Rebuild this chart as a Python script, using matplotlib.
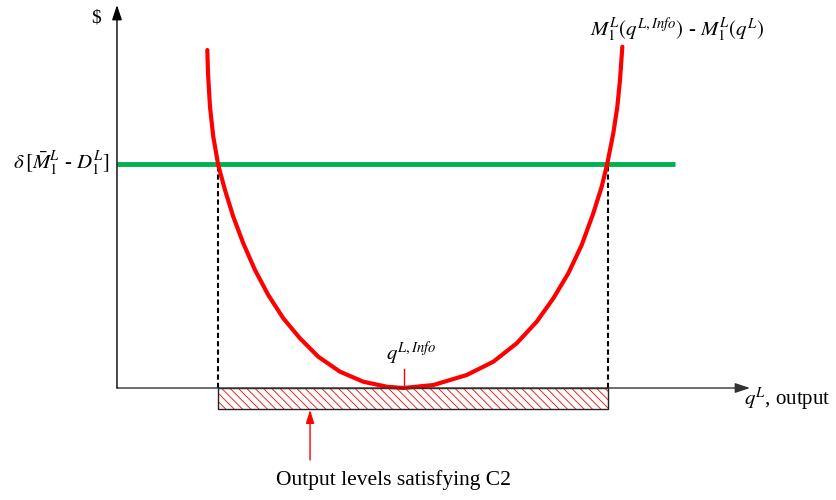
import matplotlib.pyplot as plt
from matplotlib.patches import Rectangle

plt.rcParams['font.family'] = ['Liberation Serif', 'DejaVu Serif']
plt.rcParams['mathtext.fontset'] = 'stix'
plt.rcParams['hatch.linewidth'] = 0.6

# red U curve M1(q_info) - M1(q)
q_curve = [1.427, 1.438, 1.469, 1.521, 1.600, 1.706, 1.837, 1.995, 2.180, 2.390,
           2.627, 2.891, 3.180, 3.523, 3.891, 4.261, 4.523, 4.997, 5.524, 5.945,
           6.314, 6.630, 6.893, 7.130, 7.341, 7.524, 7.657, 7.746, 7.840, 7.904,
           7.946, 7.983]
v_curve = [8.825, 8.217, 7.345, 6.561, 5.815, 5.170, 4.473, 3.778, 3.081, 2.428,
           1.820, 1.298, 0.817, 0.426, 0.164, 0.034, 0.000, 0.078, 0.339, 0.687,
           1.167, 1.731, 2.342, 2.995, 3.734, 4.561, 5.256, 5.867, 6.650, 7.345,
           8.042, 8.911]

delta_level = 5.85      # green line
q_left, q_right = 1.60, 7.75   # crossings
green_end = 8.81
q_info = 4.53
x_max, y_max = 10.0, 10.0

fig = plt.figure(figsize=(8.37, 5.0), dpi=100)
ax = fig.add_axes([0, 0, 1, 1])
ax.set_xlim(-1.848, 11.374)
ax.set_ylim(-2.924, 10.131)
ax.axis('off')

# axes with arrows
ax.annotate('', xy=(x_max, 0), xytext=(0, 0),
            arrowprops=dict(arrowstyle='-|>,head_length=0.9,head_width=0.3', color='#333333', lw=1,
                            shrinkA=0, shrinkB=0))
ax.annotate('', xy=(0, y_max), xytext=(0, 0),
            arrowprops=dict(arrowstyle='-|>,head_length=0.9,head_width=0.3', color='black', lw=1,
                            shrinkA=0, shrinkB=0))

# hatched region
ax.add_patch(Rectangle((q_left, -0.55), q_right - q_left, 0.55, facecolor='none',
                       edgecolor='red', hatch='\\' * 4, lw=0))
ax.add_patch(Rectangle((q_left, -0.55), q_right - q_left, 0.55, facecolor='none',
                       edgecolor='#222222', lw=1))

# dashed drop lines
for qx in (q_left, q_right):
    ax.plot([qx, qx], [0, delta_level], color='black', lw=1.5, ls=(0, (2.5, 1.5)))

ax.plot([0, green_end], [delta_level, delta_level], color='#00b050', lw=3.5, solid_capstyle='butt')
ax.plot(q_curve, v_curve, color='red', lw=3, solid_capstyle='round', solid_joinstyle='round')

# q^{L,Info} marker
ax.plot([q_info, q_info], [0.08, 0.5], color='red', lw=1)
ax.text(q_info + 0.12, 0.55, r'$q^{L,Info}$', fontsize=15, ha='center', va='bottom')

# labels
ax.text(-0.33, 9.66, '$', fontsize=14, ha='center', va='center')
ax.text(-0.12, delta_level, r'$\delta\,[\bar{M}_1^L$ - $D_1^L]$', fontsize=15,
        ha='right', va='center')
ax.text(7.47, 9.35, r'$M_1^L(q^{L,Info})$ - $M_1^L(q^L)$', fontsize=15, ha='left', va='center')
ax.text(9.9, -0.31, r'$q^L$, output', fontsize=15, ha='left', va='center')

ax.annotate('', xy=(3.05, -0.57), xytext=(3.05, -1.88),
            arrowprops=dict(arrowstyle='-|>,head_length=0.8,head_width=0.25', color='red', lw=1,
                            shrinkA=0, shrinkB=0))
ax.text(4.36, -2.40, 'Output levels satisfying C2', fontsize=15.5, ha='center', va='center')

fig.savefig('out.png', dpi=100)
